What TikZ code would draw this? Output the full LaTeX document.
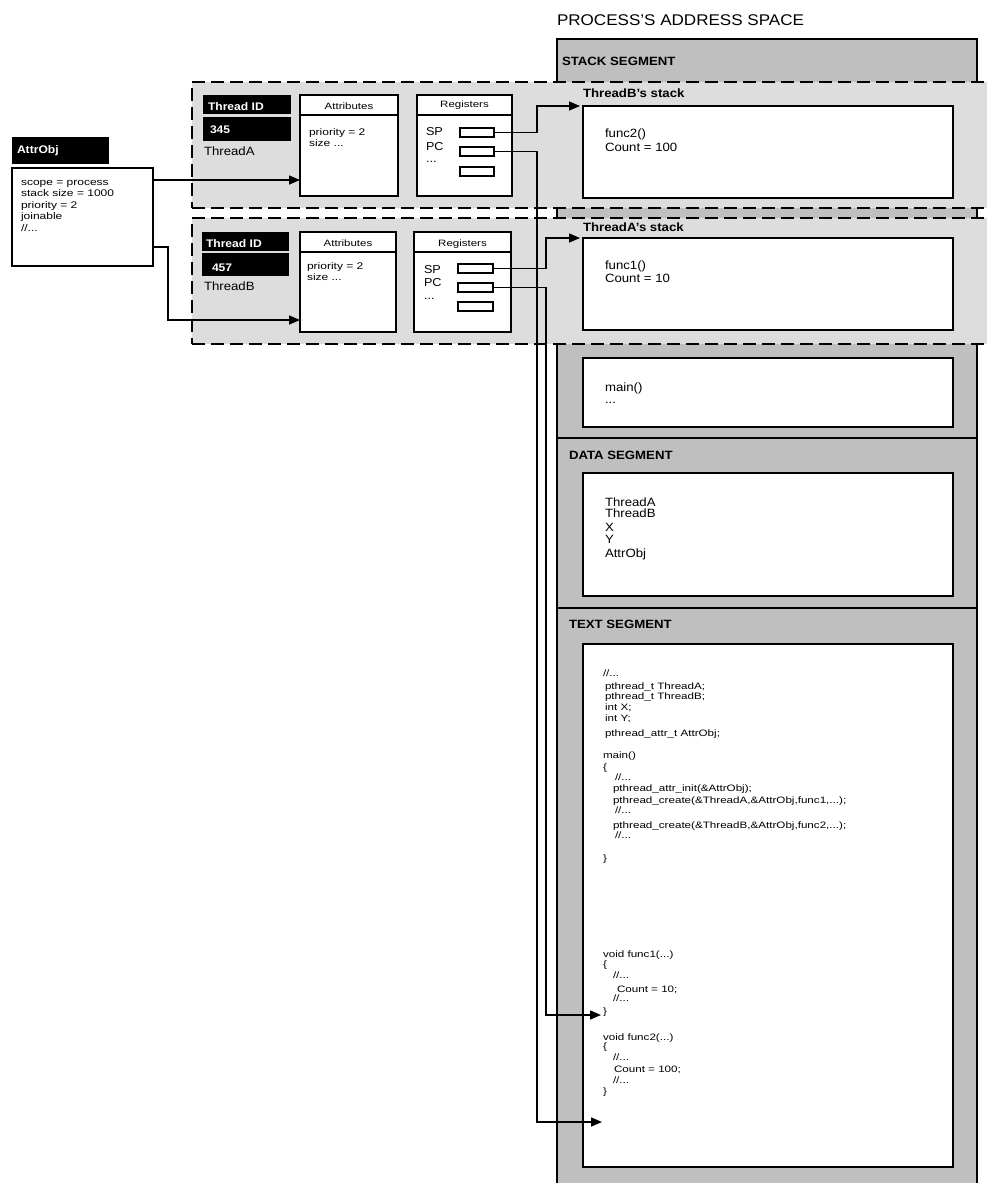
\documentclass[tikz,border=0pt]{standalone}
\usepackage{fontspec}
\setmainfont{Liberation Sans}[FakeStretch=1.1]
\newfontfamily\narrowfont{Liberation Sans}[FakeStretch=1.25]
\usetikzlibrary{fit,arrows.meta,calc}
\definecolor{segfill}{gray}{0.75}
\definecolor{thrfill}{gray}{0.865}
\begin{document}
\begin{tikzpicture}[x=1pt,y=-1pt,
  box/.style={draw,line width=1.5pt,fill=white,inner sep=0pt,outer sep=0pt},
  seg/.style={draw,line width=1.5pt,fill=segfill,inner sep=0pt,outer sep=0pt},
  thr/.style={draw,line width=1.9pt,fill=thrfill,dash pattern=on 13pt off 6pt,inner sep=0pt,outer sep=0pt},
  blk/.style={fill=black,inner sep=0pt,outer sep=0pt},
  tx/.style={anchor=base west,inner sep=0pt,outer sep=0pt},
  txc/.style={anchor=base,inner sep=0pt,outer sep=0pt},
  wt/.style={tx,text=white,font=\fontsize{11}{12}\selectfont\bfseries},
  sm/.style={font=\narrowfont\fontsize{9.6}{11}\selectfont},
  hd/.style={font=\narrowfont\fontsize{9.2}{11}\selectfont},
  md/.style={font=\fontsize{12}{13}\selectfont},
  bd/.style={font=\fontsize{12}{13}\selectfont\bfseries},
  cd/.style={font=\narrowfont\fontsize{9.3}{10}\selectfont},
  rg/.style={font=\fontsize{11.5}{12}\selectfont},
  divider/.style={line width=1.5pt},
  arr/.style={line width=1.5pt,-{Triangle[length=11pt,width=9pt]}},
]
\useasboundingbox (0,0) rectangle (987,1183);

% address space column
\node[seg,fit={(557,39)(977,438)}] (stackseg) {};
\node[seg,fit={(557,438)(977,608)}] (dataseg) {};
\node[seg,fit={(557,608)(977,1200)}] (textseg) {};

% thread regions
\node[thr,fit={(192,82)(1000,208)}] (regA) {};
\node[thr,fit={(192,218)(1000,344)}] (regB) {};

% title and segment labels
\node[tx,font=\fontsize{15.5}{16}\selectfont] (title) at (557,25.5) {PROCESS'S ADDRESS SPACE};
\node[tx,bd] (stacklbl) at (562,65) {STACK SEGMENT};
\node[tx,bd] (datalbl) at (569,459) {DATA SEGMENT};
\node[tx,bd] (textlbl) at (569,628) {TEXT SEGMENT};

% stack boxes
\node[tx,bd] (stackBlbl) at (583,97) {ThreadB's stack};
\node[box,fit={(583,106)(953,198)}] (stackB) {};
\node[tx,md] (func2) at (605,137) {func2()};
\node[tx,md] (cnt100) at (605,151) {Count = 100};

\node[tx,bd] (stackAlbl) at (583,231) {ThreadA's stack};
\node[box,fit={(583,238)(953,330)}] (stackA) {};
\node[tx,md] (func1) at (605,269) {func1()};
\node[tx,md] (cnt10) at (605,282) {Count = 10};

\node[box,fit={(583,358)(953,427)}] (mainbox) {};
\node[tx,md] (maintxt) at (605,391) {main()};
\node[tx,md] (maindots) at (605,403) {...};

% data segment
\node[box,fit={(583,473)(953,596)}] (databox) {};
\node[tx,md] (d1) at (605,506) {ThreadA};
\node[tx,md] (d2) at (605,517) {ThreadB};
\node[tx,md] (d3) at (605,531) {X};
\node[tx,md] (d4) at (605,543) {Y};
\node[tx,md] (d5) at (605,557) {AttrObj};

% text segment
\node[box,fit={(583,644)(953,1167)}] (textbox) {};
\node[tx,cd] (c1) at (603,676) {//...};
\node[tx,cd] (c2) at (605,689) {pthread\_t ThreadA;};
\node[tx,cd] (c3) at (605,699) {pthread\_t ThreadB;};
\node[tx,cd] (c4) at (605,710) {int X;};
\node[tx,cd] (c5) at (605,721) {int Y;};
\node[tx,cd] (c6) at (605,736) {pthread\_attr\_t AttrObj;};
\node[tx,cd] (c7) at (603,758) {main()};
\node[tx,cd] (c8) at (603,770) {\{};
\node[tx,cd] (c9) at (615,780) {//...};
\node[tx,cd] (c10) at (613,791) {pthread\_attr\_init(\&AttrObj);};
\node[tx,cd] (c11) at (613,803) {pthread\_create(\&ThreadA,\&AttrObj,func1,...);};
\node[tx,cd] (c12) at (615,813) {//...};
\node[tx,cd] (c13) at (613,828) {pthread\_create(\&ThreadB,\&AttrObj,func2,...);};
\node[tx,cd] (c14) at (615,838) {//...};
\node[tx,cd] (c15) at (603,861) {\}};
\node[tx,cd] (c16) at (603,957) {void func1(...)};
\node[tx,cd] (c17) at (603,967) {\{};
\node[tx,cd] (c18) at (613,978) {//...};
\node[tx,cd] (c19) at (617,992) {Count = 10;};
\node[tx,cd] (c20) at (613,1001) {//...};
\node[tx,cd] (c21) at (603,1014) {\}};
\node[tx,cd] (c22) at (603,1040) {void func2(...)};
\node[tx,cd] (c23) at (603,1049) {\{};
\node[tx,cd] (c24) at (613,1060) {//...};
\node[tx,cd] (c25) at (614,1072) {Count = 100;};
\node[tx,cd] (c26) at (613,1083) {//...};
\node[tx,cd] (c27) at (603,1094) {\}};

% AttrObj
\node[blk,fit={(12,137)(109,164)}] (attrhead) {};
\node[wt] (attrheadtxt) at (17,153) {AttrObj};
\node[box,fit={(12,168)(153,266)}] (attrobj) {};
\node[tx,sm] (ao1) at (21,185) {scope = process};
\node[tx,sm] (ao2) at (21,196) {stack size = 1000};
\node[tx,sm] (ao3) at (21,208) {priority = 2};
\node[tx,sm] (ao4) at (21,219) {joinable};
\node[tx,sm] (ao5) at (21,231) {//...};

% Thread A
\node[blk,fit={(203,95)(291,114)}] (idA) {};
\node[wt] (idAtxt) at (208,110) {Thread ID};
\node[blk,fit={(203,117)(291,141)}] (numA) {};
\node[wt] (numAtxt) at (210,133) {345};
\node[tx,md] (nameA) at (204,155) {ThreadA};
\node[box,fit={(300,95)(398,196)}] (attrA) {};
\draw[divider] ([yshift=-20pt]attrA.north west) -- ([yshift=-20pt]attrA.north east);
\node[txc,hd] (attrAh) at (349,109) {Attributes};
\node[tx,sm] (attrA1) at (309,135) {priority = 2};
\node[tx,sm] (attrA2) at (309,146) {size ...};
\node[box,fit={(417,95)(512,196)}] (regsA) {};
\draw[divider] ([yshift=-20pt]regsA.north west) -- ([yshift=-20pt]regsA.north east);
\node[txc,hd] (regsAh) at (464.5,107) {Registers};
\node[tx,rg] (spA) at (426,135) {SP};
\node[tx,rg] (pcA) at (426,150) {PC};
\node[tx,rg] (dotA) at (426,162) {...};
\node[box,fit={(460,128)(494,137)}] (rA1) {};
\node[box,fit={(460,147)(494,156)}] (rA2) {};
\node[box,fit={(460,167)(494,176)}] (rA3) {};

% Thread B
\node[blk,fit={(202,232)(289,251)}] (idB) {};
\node[wt] (idBtxt) at (206,247) {Thread ID};
\node[blk,fit={(202,253)(289,276)}] (numB) {};
\node[wt] (numBtxt) at (212,271) {457};
\node[tx,md] (nameB) at (204,290) {ThreadB};
\node[box,fit={(300,232)(396,332)}] (attrB) {};
\draw[divider] ([yshift=-20pt]attrB.north west) -- ([yshift=-20pt]attrB.north east);
\node[txc,hd] (attrBh) at (348,246) {Attributes};
\node[tx,sm] (attrB1) at (307,269) {priority = 2};
\node[tx,sm] (attrB2) at (307,280) {size ...};
\node[box,fit={(414,232)(511,332)}] (regsB) {};
\draw[divider] ([yshift=-20pt]regsB.north west) -- ([yshift=-20pt]regsB.north east);
\node[txc,hd] (regsBh) at (462.5,246) {Registers};
\node[tx,rg] (spB) at (424,273) {SP};
\node[tx,rg] (pcB) at (424,286) {PC};
\node[tx,rg] (dotB) at (424,299) {...};
\node[box,fit={(458,264)(493,273)}] (rB1) {};
\node[box,fit={(458,283)(493,292)}] (rB2) {};
\node[box,fit={(458,302)(493,311)}] (rB3) {};

% connector helpers
\coordinate (busA) at (537,0);
\coordinate (busB) at (546,0);
\coordinate (f1end) at (601,1015);
\coordinate (f2end) at (602,1122);
\coordinate (p1) at ([yshift=-12pt]attrobj.north east);
\coordinate (p2) at ([yshift=-79pt]attrobj.north east);
\coordinate (q2) at ([yshift=12pt]attrB.south west);

% connectors
\draw[arr] (p1) -- (p1 -| attrA.west);
\draw[arr] (p2) -- ++(15,0) |- (q2);
\draw[arr,shorten >=3pt] (rA1.east) -- (rA1.east -| busA) |- (stackB.north west);
\draw[arr] (rA2.east) -- (rA2.east -| busA) |- (f2end);
\draw[arr,shorten >=3pt] (rB1.east) -- (rB1.east -| busB) |- (stackA.north west);
\draw[arr] (rB2.east) -- (rB2.east -| busB) |- (f1end);
\end{tikzpicture}
\end{document}
